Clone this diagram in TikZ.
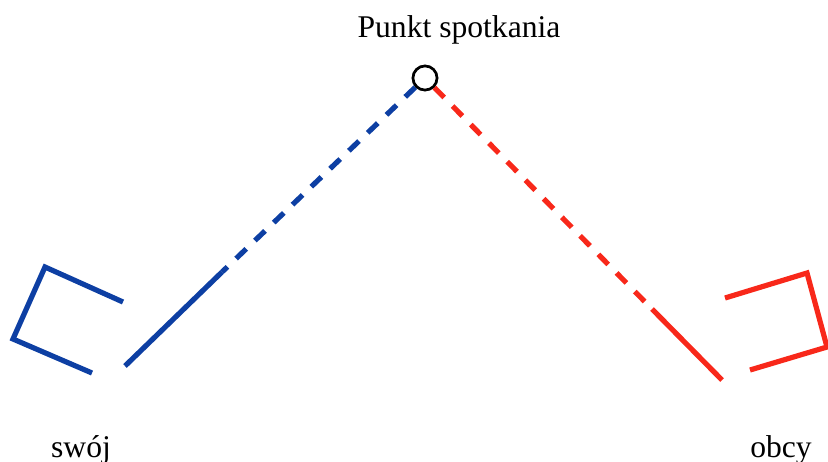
\documentclass[tikz,border=0pt]{standalone}
\usepackage{fontspec}
\setmainfont{Liberation Serif}
\usepackage{tikz}
\usetikzlibrary{positioning}
\definecolor{cswoj}{HTML}{0D3FA3}
\definecolor{cobcy}{HTML}{F8281A}
\tikzset{
  swojline/.style={line width=2.6pt, color=cswoj},
  obcyline/.style={line width=2.6pt, color=cobcy},
  meetline/.style={dash pattern=on 7pt off 6pt},
  meetdot/.style={circle, draw=black, line width=1.3pt, fill=white,
    minimum size=12pt, inner sep=0pt},
  caption/.style={anchor=base, font=\fontsize{15.8pt}{18pt}\selectfont}
}

\begin{document}
\begin{tikzpicture}[x=0.5pt, y=-0.5pt]
    \useasboundingbox (0,0) rectangle (828,461);

    % meeting point
    \node[caption] (title) at (459,37) {Punkt spotkania};
    \node[meetdot] (meet) at (425,78) {};

    % own side
    \coordinate (swojend) at (125,366);
    \coordinate (swojmid) at (222,272);
    \draw[swojline] (123,302) -- (45,267) -- (13,339) -- (92,373);
    \draw[swojline] (swojend) -- (swojmid);
    \draw[swojline, meetline] (meet) -- (swojmid);
    \node[caption] (swoj) at (81,457) {swój};

    % foreign side
    \coordinate (obcyend) at (722,380);
    \coordinate (obcymid) at (652,309);
    \draw[obcyline] (725,298) -- (807,273) -- (827,347) -- (750,370);
    \draw[obcyline] (obcyend) -- (obcymid);
    \draw[obcyline, meetline] (meet) -- (obcymid);
    \node[caption] (obcy) at (781,457) {obcy};

    \node[meetdot] at (meet) {};
  \end{tikzpicture}
\end{document}
